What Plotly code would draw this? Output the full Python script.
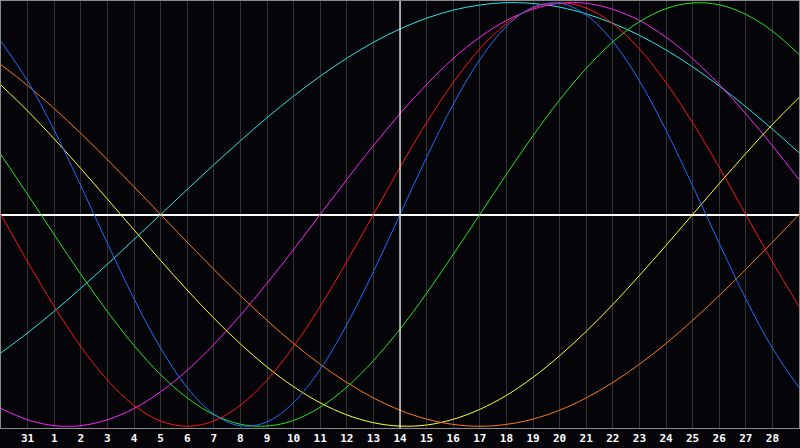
import plotly.graph_objects as go

# one label per day column, the first and last sit on the frame and are not shown
day_labels = ["30", "31", "1", "2", "3", "4", "5", "6", "7", "8", "9", "10", "11", "12",
              "13", "14", "15", "16", "17", "18", "19", "20", "21", "22", "23", "24",
              "25", "26", "27", "28", "29"]

physical = [81.7, 63.1, 39.8, 13.6, -13.6, -39.8, -63.1, -81.7, -94.2, -99.8, -97.9,
            -88.8, -73.1, -52.0, -27.0, 0, 27.0, 52.0, 73.1, 88.8, 97.9, 99.8, 94.2,
            81.7, 63.1, 39.8, 13.6, -13.6, -39.8, -63.1, -81.7]
emotional = [0, -22.3, -43.4, -62.3, -78.2, -90.1, -97.5, -100, -97.5, -90.1, -78.2,
             -62.3, -43.4, -22.3, 0, 22.3, 43.4, 62.3, 78.2, 90.1, 97.5, 100, 97.5,
             90.1, 78.2, 62.3, 43.4, 22.3, 0, -22.3, -43.4]
intellectual = [28.2, 9.5, -9.5, -28.2, -45.8, -61.8, -75.6, -86.6, -94.5, -99.0, -99.9,
                -97.2, -91.0, -81.5, -69.0, -54.1, -37.2, -18.9, 0, 18.9, 37.2, 54.1,
                69.0, 81.5, 91.0, 97.2, 99.9, 99.0, 94.5, 86.6, 75.6]
intuitive = [-91.6, -96.9, -99.7, -99.7, -96.9, -91.6, -83.7, -73.6, -61.4, -47.6, -32.5,
             -16.5, 0, 16.5, 32.5, 47.6, 61.4, 73.6, 83.7, 91.6, 96.9, 99.7, 99.7, 96.9,
             91.6, 83.7, 73.6, 61.4, 47.6, 32.5, 16.5]
spiritual = [-65.3, -55.9, -45.7, -34.8, -23.5, -11.8, 0, 11.8, 23.5, 34.8, 45.7, 55.9,
             65.3, 73.8, 81.3, 87.6, 92.7, 96.5, 98.9, 100.0, 99.6, 97.9, 94.7, 90.3,
             84.6, 77.7, 69.7, 60.7, 50.9, 40.3, 29.2]
aesthetic = [61.1, 48.9, 35.7, 21.7, 7.3, -7.3, -21.7, -35.7, -48.9, -61.1, -72.0, -81.3,
             -88.9, -94.6, -98.3, -99.9, -99.4, -96.7, -92.0, -85.4, -76.9, -66.7, -55.2,
             -42.5, -28.8, -14.6, 0, 14.6, 28.8, 42.5, 55.2]
awareness = [70.7, 60.9, 50.0, 38.3, 25.9, 13.1, 0, -13.1, -25.9, -38.3, -50.0, -60.9,
             -70.7, -79.3, -86.6, -92.4, -96.6, -99.1, -100, -99.1, -96.6, -92.4, -86.6,
             -79.3, -70.7, -60.9, -50.0, -38.3, -25.9, -13.1, 0]

series = [
    ("Spiritual", spiritual, "#22e6e6"),
    ("Intuitive", intuitive, "#ff22ff"),
    ("Aesthetic", aesthetic, "#ffff22"),
    ("Awareness", awareness, "#ff7a12"),
    ("Intellectual", intellectual, "#22e622"),
    ("Emotional", emotional, "#ff1414"),
    ("Physical", physical, "#1e6eff"),
]

x = list(range(len(day_labels)))
today = day_labels.index("14")

fig = go.Figure()
for name, values, color in series:
    fig.add_trace(go.Scatter(
        x=x, y=values, name=name, mode="lines",
        line=dict(color=color, width=1, shape="spline", smoothing=1.0),
        hoverinfo="skip"
    ))

# today marker
fig.add_shape(type="line", xref="x", yref="paper", x0=today, x1=today, y0=0, y1=1,
              line=dict(color="#ffffff", width=1.2), layer="above")

fig.update_layout(
    width=800, height=448,
    margin=dict(l=1, r=1, t=1, b=20),
    paper_bgcolor="#050408",
    plot_bgcolor="#050408",
    showlegend=False,
    xaxis=dict(
        range=[0, len(day_labels) - 1],
        tickmode="array",
        tickvals=x[1:-1],
        ticktext=["<b>" + t + "</b>" for t in day_labels[1:-1]],
        tickfont=dict(family="DejaVu Sans Mono, monospace", size=11, color="#ffffff"),
        showgrid=True, gridcolor="#333336", gridwidth=1,
        showline=True, linecolor="#8c8c8c", linewidth=1, mirror=True,
        zeroline=False, ticks="", fixedrange=True
    ),
    yaxis=dict(
        range=[-100.8, 100.8],
        showticklabels=False, showgrid=False,
        zeroline=True, zerolinecolor="#ffffff", zerolinewidth=1.5,
        showline=True, linecolor="#8c8c8c", linewidth=1, mirror=True,
        ticks="", fixedrange=True
    ),
)

fig.write_html(
    "out.html",
    config={"displayModeBar": False},
    post_script="document.body.style.margin='0';document.body.style.background='#050408';"
)
